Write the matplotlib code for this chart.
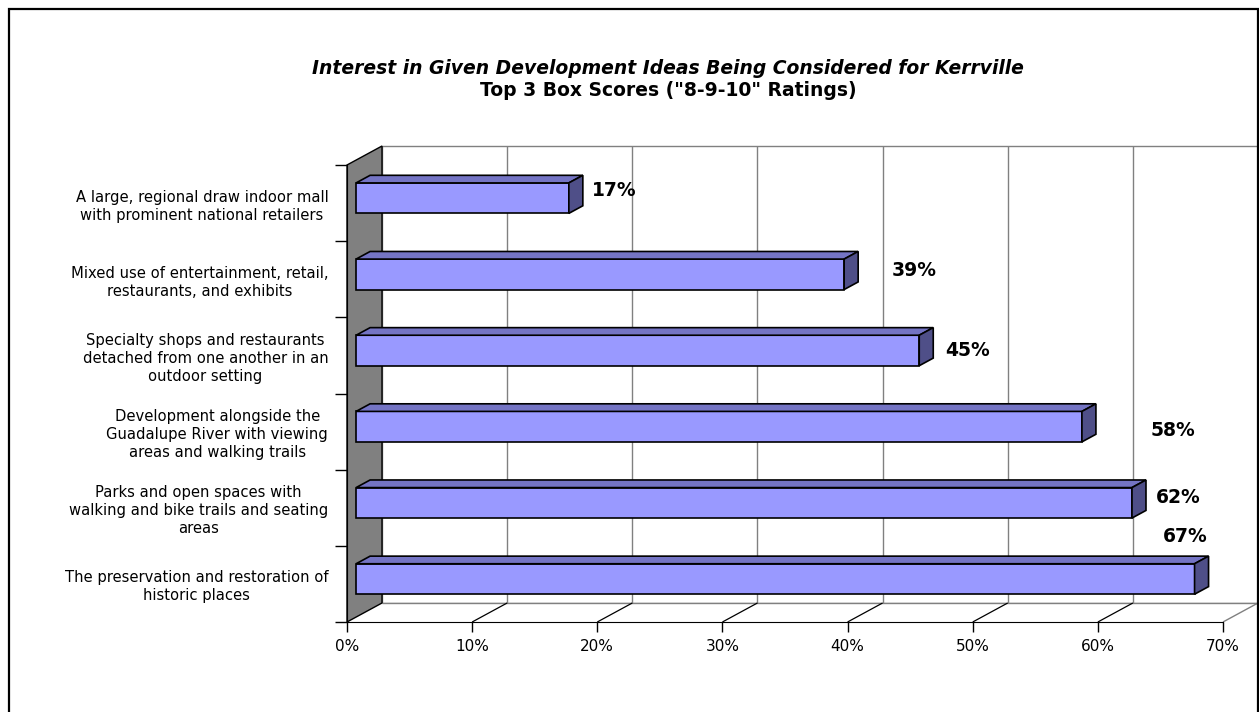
import numpy as np
import matplotlib
matplotlib.use('Agg')
import matplotlib.pyplot as plt
from matplotlib.patches import Polygon, Rectangle

# data
ideas = ['A large, regional draw indoor mall\nwith prominent national retailers',
         'Mixed use of entertainment, retail,\nrestaurants, and exhibits',
         'Specialty shops and restaurants\ndetached from one another in an\noutdoor setting',
         'Development alongside the\nGuadalupe River with viewing\nareas and walking trails',
         'Parks and open spaces with\nwalking and bike trails and seating\nareas',
         'The preservation and restoration of\nhistoric places']
scores = [17, 39, 45, 58, 62, 67]
# where each value label sits (value units, category units)
label_x = [19.6, 43.5, 47.8, 64.2, 64.6, 65.2]
label_y = [5.66, 4.62, 3.57, 2.52, 1.64, 1.12]
xticks = [0, 10, 20, 30, 40, 50, 60, 70]
xticklabels = ['0%', '10%', '20%', '30%', '40%', '50%', '60%', '70%']

W, H = 1259, 712
fig = plt.figure(figsize=(W / 100, H / 100), dpi=100)
fig.patch.set_facecolor('white')

# front plane of the plot
ax = fig.add_axes([347 / W, 90 / H, 876 / W, 457 / H])
ax.set_xlim(0, 70)
ax.set_ylim(0, 6)
ax.patch.set_visible(False)

# depth offset of the 3d box (value units / category units)
DX = 35 / (876 / 70)
DY = 19 / (457 / 6)

def P(v, c, d):
    return (v + d * DX, c + d * DY)

def poly(pts, fc, ec, lw=1.0, z=1):
    ax.add_patch(Polygon(pts, closed=True, facecolor=fc, edgecolor=ec,
                         linewidth=lw, zorder=z, clip_on=False, joinstyle='miter'))

def line(a, b, color, lw=1.0, z=2):
    ax.plot([a[0], b[0]], [a[1], b[1]], color=color, lw=lw, zorder=z,
            clip_on=False, solid_capstyle='butt')

grey = '#808080'

# back wall + gridlines
poly([P(0, 0, 1), P(70, 0, 1), P(70, 6, 1), P(0, 6, 1)], 'white', grey, z=1)
for v in xticks[1:-1]:
    line(P(v, 0, 1), P(v, 6, 1), grey, z=2)

# floor
poly([P(0, 0, 0), P(70, 0, 0), P(70, 0, 1), P(0, 0, 1)], 'white', 'none', z=2)
line(P(0, 0, 1), P(70, 0, 1), grey, z=2)
for v in xticks[1:-1]:
    line(P(v, 0, 0), P(v, 0, 1), 'black', lw=0.9, z=2)
line(P(70, 0, 0), P(70, 0, 1), grey, z=2)

# left side wall
poly([P(0, 0, 0), P(0, 6, 0), P(0, 6, 1), P(0, 0, 1)], '#808080', 'black', lw=1.0, z=3)

# 3d bars
d0, d1, hw = 0.26, 0.66, 0.2
for i, val in enumerate(scores):
    c = len(scores) - i - 0.5
    lo, hi = c - hw, c + hw
    poly([P(0, lo, d0), P(val, lo, d0), P(val, hi, d0), P(0, hi, d0)], '#9999FF', 'black', 1.2, z=5)
    poly([P(0, hi, d0), P(val, hi, d0), P(val, hi, d1), P(0, hi, d1)], '#7474C4', 'black', 1.2, z=5)
    poly([P(val, lo, d0), P(val, hi, d0), P(val, hi, d1), P(val, lo, d1)], '#4F4F88', 'black', 1.2, z=5)
    ax.text(label_x[i], label_y[i], '%d%%' % val, ha='left', va='center',
            fontsize=13.5, fontweight='bold', color='black', zorder=6)

# axes lines and ticks
for s in ['top', 'right']:
    ax.spines[s].set_visible(False)
ax.spines['left'].set_zorder(4)
ax.spines['bottom'].set_zorder(4)
ax.set_xticks(xticks)
ax.set_xticklabels(xticklabels, fontsize=11)
ax.tick_params(axis='x', direction='out', length=7.2, width=1, pad=5, color='black')

ax.set_yticks(range(7))
ax.set_yticklabels([])
ax.tick_params(axis='y', which='major', direction='out', length=8.6, width=1)
ax.set_yticks([len(scores) - i - 0.5 for i in range(len(scores))], minor=True)
ax.set_yticklabels(ideas, minor=True, fontsize=10.6, linespacing=1.25)
ax.tick_params(axis='y', which='minor', length=0, pad=13.5)
for t in ax.get_yticklabels(minor=True):
    t.set_multialignment('center')

# title
fig.text(668 / W, 1 - 68 / H, 'Interest in Given Development Ideas Being Considered for Kerrville',
         ha='center', va='center', fontsize=13.5, fontweight='bold', fontstyle='italic')
fig.text(668 / W, 1 - 91 / H, 'Top 3 Box Scores ("8-9-10" Ratings)',
         ha='center', va='center', fontsize=13.5, fontweight='bold')

# chart area border
fig.patches.append(Rectangle((8.5 / W, -0.05), (1257.5 - 8.5) / W, 1.05 - 8.5 / H,
                             transform=fig.transFigure, fill=False, edgecolor='black',
                             linewidth=1.6))

fig.savefig('out.png', dpi=100, facecolor='white')
